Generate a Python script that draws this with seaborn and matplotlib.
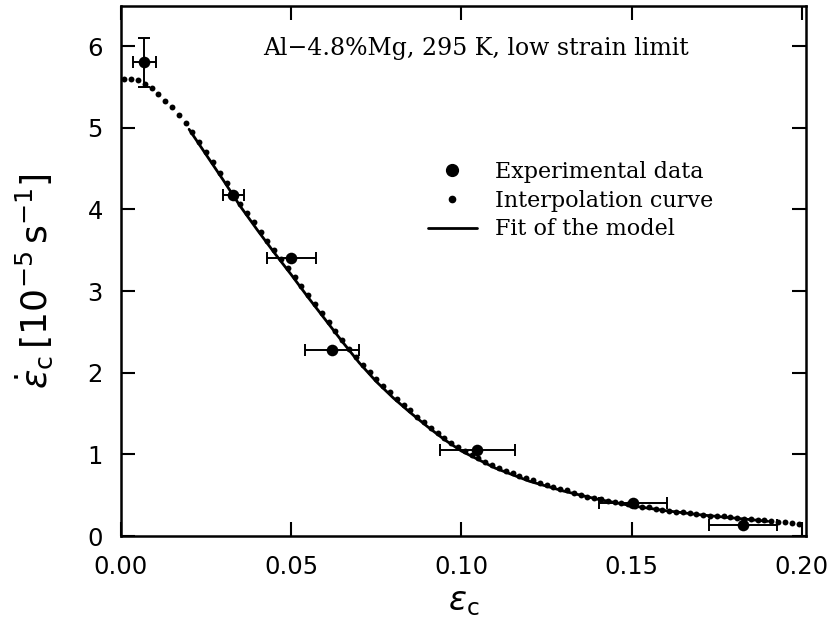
import matplotlib
matplotlib.use("Agg")
import matplotlib.pyplot as plt
import seaborn as sns
from matplotlib.lines import Line2D

# ---------------- data ----------------
exp_x = [0.0068, 0.0330, 0.0500, 0.0620, 0.1046, 0.1503, 0.1826]
exp_y = [5.80, 4.18, 3.40, 2.28, 1.05, 0.40, 0.13]
exp_xerr = [0.0034, 0.0030, 0.0072, 0.0080, 0.0110, 0.0100, 0.0100]
exp_yerr = [0.30, 0.0, 0.0, 0.0, 0.0, 0.0, 0.0]

interp_x = [0.001, 0.003, 0.005, 0.007, 0.009, 0.011, 0.013, 0.015, 0.017, 0.019,
            0.021, 0.023, 0.025, 0.027, 0.029, 0.031, 0.033, 0.035, 0.037, 0.039,
            0.041, 0.043, 0.045, 0.047, 0.049, 0.051, 0.053, 0.055, 0.057, 0.059,
            0.061, 0.063, 0.065, 0.067, 0.069, 0.071, 0.073, 0.075, 0.077, 0.079,
            0.081, 0.083, 0.085, 0.087, 0.089, 0.091, 0.093, 0.095, 0.097, 0.099,
            0.101, 0.103, 0.105, 0.107, 0.109, 0.111, 0.113, 0.115, 0.117, 0.119,
            0.121, 0.123, 0.125, 0.127, 0.129, 0.131, 0.133, 0.135, 0.137, 0.139,
            0.141, 0.143, 0.145, 0.147, 0.149, 0.151, 0.153, 0.155, 0.157, 0.159,
            0.161, 0.163, 0.165, 0.167, 0.169, 0.171, 0.173, 0.175, 0.177, 0.179,
            0.181, 0.183, 0.185, 0.187, 0.189, 0.191, 0.193, 0.195, 0.197, 0.199]
interp_y = [5.60, 5.60, 5.58, 5.54, 5.48, 5.41, 5.33, 5.25, 5.16, 5.06,
            4.95, 4.83, 4.70, 4.58, 4.45, 4.32, 4.19, 4.07, 3.95, 3.84,
            3.72, 3.61, 3.50, 3.39, 3.28, 3.17, 3.06, 2.95, 2.84, 2.73,
            2.62, 2.51, 2.40, 2.29, 2.19, 2.10, 2.01, 1.92, 1.84, 1.76,
            1.68, 1.61, 1.54, 1.46, 1.39, 1.32, 1.26, 1.20, 1.14, 1.09,
            1.04, 0.99, 0.95, 0.91, 0.87, 0.83, 0.80, 0.77, 0.74, 0.71,
            0.68, 0.65, 0.63, 0.60, 0.58, 0.56, 0.53, 0.50, 0.48, 0.47,
            0.45, 0.43, 0.42, 0.40, 0.39, 0.37, 0.36, 0.35, 0.33, 0.32,
            0.31, 0.30, 0.29, 0.28, 0.27, 0.26, 0.25, 0.25, 0.24, 0.23,
            0.22, 0.21, 0.21, 0.20, 0.19, 0.18, 0.17, 0.17, 0.16, 0.15]

fit_x = [0.020, 0.025, 0.030, 0.035, 0.040, 0.045, 0.050, 0.055, 0.060, 0.065,
         0.070, 0.075, 0.080, 0.085, 0.090, 0.095, 0.100, 0.110, 0.120, 0.130,
         0.140, 0.150, 0.160, 0.170, 0.180, 0.190]
fit_y = [4.98, 4.67, 4.36, 4.04, 3.75, 3.47, 3.20, 2.92, 2.65, 2.38,
         2.12, 1.89, 1.69, 1.51, 1.34, 1.18, 1.04, 0.83, 0.67, 0.55,
         0.45, 0.37, 0.31, 0.26, 0.22, 0.18]

x_ticks = [0.00, 0.05, 0.10, 0.15, 0.20]
y_ticks = [0, 1, 2, 3, 4, 5, 6]
legend_labels = ["Experimental data", "Interpolation curve", "Fit of the model"]
title_text = "Al\u22124.8%Mg, 295 K, low strain limit"

# ---------------- style ----------------
sns.set_style("ticks")
plt.rcParams["font.family"] = ["DejaVu Sans"]
plt.rcParams["mathtext.fontset"] = "dejavusans"
for key in ["text.color", "axes.labelcolor", "xtick.color", "ytick.color",
            "axes.edgecolor"]:
    plt.rcParams[key] = "black"

fig = plt.figure(figsize=(8.4, 6.29), dpi=100)
W, H = 840, 629
ax = fig.add_axes([121 / W, 1 - 536 / H, (806 - 121) / W, (536 - 6) / H])

# error bars of the experimental points
ax.errorbar(exp_x, exp_y, xerr=exp_xerr, yerr=exp_yerr, fmt="none",
            ecolor="black", elinewidth=1.4, capsize=4.5, capthick=1.4, zorder=2)

# interpolation curve (dots)
sns.scatterplot(x=interp_x, y=interp_y, ax=ax, s=18, color="black",
                linewidth=0, zorder=3)
# fit of the model (solid line)
sns.lineplot(x=fit_x, y=fit_y, ax=ax, color="black", linewidth=2.0,
             sort=False, zorder=3)
# experimental data
sns.scatterplot(x=exp_x, y=exp_y, ax=ax, s=70, color="black",
                linewidth=0, zorder=4)

ax.set_xlim(0, 0.2012)
ax.set_ylim(0, 6.49)
ax.set_xticks(x_ticks)
ax.set_xticklabels([f"{v:.2f}" for v in x_ticks])
ax.set_yticks(y_ticks)
ax.set_yticklabels([str(v) for v in y_ticks])
ax.tick_params(direction="in", length=10, width=1.5, labelsize=17.5,
               top=True, right=True, colors="black")
ax.tick_params(axis="x", pad=14)
ax.tick_params(axis="y", pad=13)
ax.minorticks_off()
for sp in ax.spines.values():
    sp.set_linewidth(1.8)
    sp.set_color("black")

ax.set_xlabel(r"$\varepsilon_{\rm c}$", fontsize=24)
ax.xaxis.set_label_coords(0.5, -0.092)
ax.set_ylabel(r"$\dot{\varepsilon}_{\rm c}\,[10^{-5}\,{\rm s}^{-1}]$", fontsize=26)
ax.yaxis.set_label_coords(-0.097, 0.48)

fig.text(263 / W, 1 - 49 / H, title_text, fontsize=17, family="DejaVu Serif",
         ha="left", va="center")

handles = [
    Line2D([], [], marker="o", linestyle="none", color="black", markersize=8.5),
    Line2D([], [], marker="o", linestyle="none", color="black", markersize=4.5),
    Line2D([], [], linestyle="-", color="black", linewidth=2.0),
]
leg = fig.legend(handles, legend_labels, loc="upper left",
                 bbox_to_anchor=(428 / W, 1 - 161 / H), frameon=False,
                 borderpad=0, borderaxespad=0, handlelength=2.2,
                 handletextpad=0.8, labelspacing=0.3,
                 prop={"family": "DejaVu Serif", "size": 16})

fig.savefig("out.png", dpi=100)
